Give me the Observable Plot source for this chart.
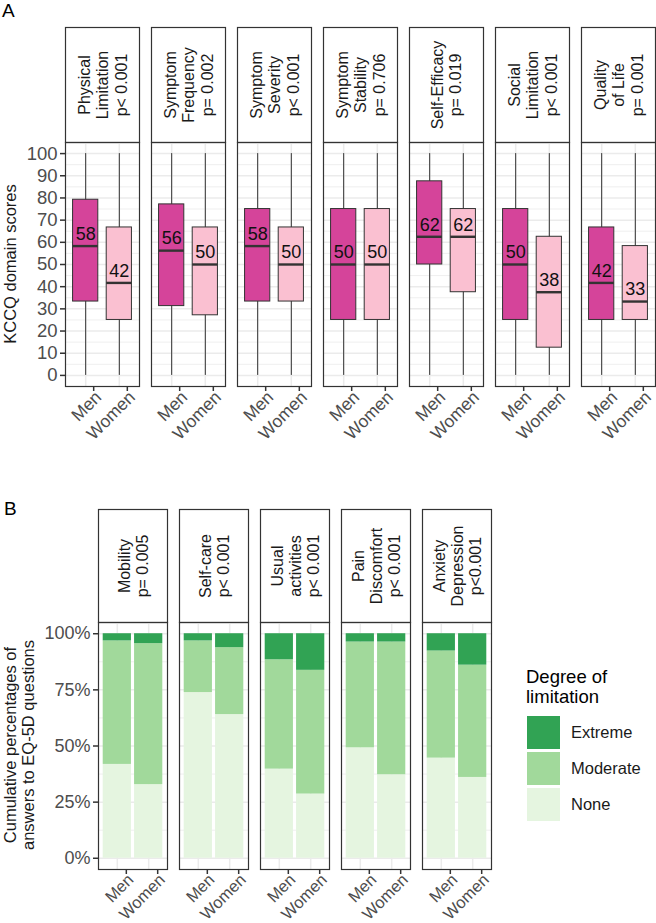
<!DOCTYPE html>
<html><head><meta charset="utf-8">
<script src="https://cdn.jsdelivr.net/npm/d3@7"></script>
<script src="https://cdn.jsdelivr.net/npm/@observablehq/plot@0.6"></script>
<style>
body{margin:0;background:#fff;font-family:"Liberation Sans",Arial,Helvetica,sans-serif;}
#root{position:relative;width:656px;height:923px;overflow:hidden;background:#fff;}
#root > svg, #root > div{position:absolute;}
.rot{transform:translate(-50%,-50%) rotate(-90deg);white-space:pre;text-align:center;color:#1A1A1A;font-size:16.5px;line-height:18px;}
</style></head><body><div id="root"></div>
<script>
// ---------- Panel A data (KCCQ) ----------
const kccqDomains = ["Physical Limitation","Symptom Frequency","Symptom Severity","Symptom Stability","Self-Efficacy","Social Limitation","Quality of Life"];
const kccqStripLabels = ["Physical\nLimitation\np< 0.001","Symptom\nFrequency\np= 0.002","Symptom\nSeverity\np< 0.001","Symptom\nStability\np= 0.706","Self-Efficacy\np= 0.019","Social\nLimitation\np< 0.001","Quality\nof Life\np= 0.001"];
const sexes = ["Men","Women"];
const boxColors = ["#D5449A","#FAC0D1"];
const menLow      = [0, 0, 0, 0, 0, 0, 0];
const menQ1       = [33.3, 31.25, 33.3, 25, 50, 25, 25];
const menMedian   = [58.3, 56.25, 58.3, 50, 62.5, 50, 41.7];
const menQ3       = [79.2, 77.1, 75, 75, 87.5, 75, 66.7];
const menHigh     = [100, 100, 100, 100, 100, 100, 100];
const menLabel    = ["58","56","58","50","62","50","42"];
const womenLow    = [0, 0, 0, 0, 0, 0, 0];
const womenQ1     = [25, 27.1, 33.3, 25, 37.5, 12.5, 25];
const womenMedian = [41.7, 50, 50, 50, 62.5, 37.5, 33.3];
const womenQ3     = [66.7, 66.7, 66.7, 75, 75, 62.5, 58.3];
const womenHigh   = [100, 100, 100, 100, 100, 100, 100];
const womenLabel  = ["42","50","50","50","62","38","33"];
const kccqTicks = [0,10,20,30,40,50,60,70,80,90,100];
const kccqMinor = [5,15,25,35,45,55,65,75,85,95];
const kccqTitle = "KCCQ domain scores";

// ---------- Panel B data (EQ-5D) ----------
const eqDomains = ["Mobility","Self-care","Usual activities","Pain Discomfort","Anxiety Depression"];
const eqStripLabels = ["Mobility\np= 0.005","Self-care\np< 0.001","Usual\nactivities\np< 0.001","Pain\nDiscomfort\np< 0.001","Anxiety\nDepression\np<0.001"];
const levels = ["Extreme","Moderate","None"];
const levelColors = ["#31A354","#A1D99B","#E5F5E0"];
const menNone       = [41.8, 73.8, 39.7, 49.2, 44.6];
const menModerate   = [55.0, 23.0, 48.7, 47.1, 47.7];
const menExtreme    = [3.2, 3.2, 11.6, 3.7, 7.7];
const womenNone     = [32.8, 64.0, 28.6, 37.2, 36.0];
const womenModerate = [62.8, 29.8, 55.1, 59.1, 50.0];
const womenExtreme  = [4.4, 6.2, 16.3, 3.7, 14.0];
const eqTicks = [0,25,50,75,100];
const eqMinor = [12.5,37.5,62.5,87.5];
const eqTitle = "Cumulative percentages of\nanswers to EQ-5D questions";
const legendTitle = "Degree of\nlimitation";

// ---------- build tables ----------
const boxRows = [];
kccqDomains.forEach((d,i)=>{
  boxRows.push({domain:d, sex:"Men", lo:menLow[i], q1:menQ1[i], med:menMedian[i], q3:menQ3[i], hi:menHigh[i], label:menLabel[i]});
  boxRows.push({domain:d, sex:"Women", lo:womenLow[i], q1:womenQ1[i], med:womenMedian[i], q3:womenQ3[i], hi:womenHigh[i], label:womenLabel[i]});
});
const stripRowsA = kccqDomains.map((d,i)=>({domain:d, label:kccqStripLabels[i]}));
const eqRows = [];
eqDomains.forEach((d,i)=>{
  eqRows.push({domain:d, sex:"Men", level:"None", value:menNone[i]});
  eqRows.push({domain:d, sex:"Men", level:"Moderate", value:menModerate[i]});
  eqRows.push({domain:d, sex:"Men", level:"Extreme", value:menExtreme[i]});
  eqRows.push({domain:d, sex:"Women", level:"None", value:womenNone[i]});
  eqRows.push({domain:d, sex:"Women", level:"Moderate", value:womenModerate[i]});
  eqRows.push({domain:d, sex:"Women", level:"Extreme", value:womenExtreme[i]});
});
const stripRowsB = eqDomains.map((d,i)=>({domain:d, label:eqStripLabels[i]}));

const FONT = '"Liberation Sans",Arial,Helvetica,sans-serif';
const root = document.getElementById("root");
function place(el, left, top){ el.style.left = left+"px"; el.style.top = top+"px"; root.appendChild(el); return el; }
function div(text, css){ const e = document.createElement("div"); e.textContent = text; Object.assign(e.style, css||{}); return e; }

const xAxisOpts = {tickSize: 5, tickPadding: -2, stroke: "#333333", strokeWidth: 1.5, tickRotate: -45, textAnchor: "end", lineAnchor: "top", dx: 8, fontSize: 17.5, label: null};
const xAxisOptsB = {...xAxisOpts, tickPadding: -2, dx: 9, fontSize: 16.5};

// ---------- Panel A ----------
const fxA = {domain: kccqDomains, paddingInner: 12/86, paddingOuter: 0, round: false, axis: null};
const stripA = Plot.plot({
  width: 656, height: 117, marginLeft: 65, marginRight: 1, marginTop: 1, marginBottom: 1,
  style: {fontFamily: FONT, background: "transparent", overflow: "visible"},
  fx: fxA,
  marks: [
    Plot.frame({fill: "white", stroke: "#333333", strokeWidth: 1.2}),
    Plot.text(stripRowsA, {fx: "domain", text: "label", frameAnchor: "middle", rotate: -90, fill: "#1A1A1A", fontSize: 16, lineHeight: 1.14})
  ]
});
place(stripA, 0, 26);

const bodyA = Plot.plot({
  width: 656, height: 300, marginLeft: 65, marginRight: 1, marginTop: 1, marginBottom: 55,
  style: {fontFamily: FONT, background: "transparent", color: "#4D4D4D", overflow: "visible"},
  fx: fxA,
  x: {domain: sexes, paddingInner: 0.25, paddingOuter: 0.225, round: false, axis: null},
  y: {domain: [-5, 105], axis: null},
  color: {domain: sexes, range: boxColors},
  marks: [
    Plot.ruleY(kccqMinor, {stroke: "#EBEBEB", strokeWidth: 0.8}),
    Plot.ruleY(kccqTicks, {stroke: "#EBEBEB", strokeWidth: 1.5}),
    Plot.ruleX(sexes, {x: d => d, stroke: "#EBEBEB", strokeWidth: 1.5}),
    Plot.ruleX(boxRows, {fx: "domain", x: "sex", y1: "lo", y2: "hi", stroke: "#333333", strokeWidth: 1}),
    Plot.barY(boxRows, {fx: "domain", x: "sex", y1: "q1", y2: "q3", fill: "sex", stroke: "#333333", strokeWidth: 1}),
    Plot.tickY(boxRows, {fx: "domain", x: "sex", y: "med", stroke: "#333333", strokeWidth: 2.4}),
    Plot.text(boxRows, {fx: "domain", x: "sex", y: "med", text: "label", dy: -12, fill: "#111111", fontSize: 18}),
    Plot.frame({stroke: "#333333", strokeWidth: 1.2}),
    Plot.axisY({ticks: kccqTicks, tickSize: 5, tickPadding: 3, stroke: "#333333", strokeWidth: 1.5, fontSize: 18.5, label: null}),
    Plot.axisX(xAxisOpts)
  ]
});
place(bodyA, 0, 141);

place(div("A", {fontSize: "19px", lineHeight: "19px", color: "#000"}), 2, 1);
const titleA = div(kccqTitle, {}); titleA.className = "rot"; place(titleA, 10, 264);

// ---------- Panel B ----------
const fxB = {domain: eqDomains, paddingInner: 12/81, paddingOuter: 0, round: false, axis: null};
const stripB = Plot.plot({
  width: 492, height: 115, marginLeft: 98, marginRight: 1, marginTop: 1, marginBottom: 1,
  style: {fontFamily: FONT, background: "transparent", overflow: "visible"},
  fx: fxB,
  marks: [
    Plot.frame({fill: "white", stroke: "#333333", strokeWidth: 1.2}),
    Plot.text(stripRowsB, {fx: "domain", text: "label", frameAnchor: "middle", rotate: -90, fill: "#1A1A1A", fontSize: 16, lineHeight: 1.14})
  ]
});
place(stripB, 0, 508);

const bodyB = Plot.plot({
  width: 492, height: 302, marginLeft: 98, marginRight: 1, marginTop: 1, marginBottom: 54,
  style: {fontFamily: FONT, background: "transparent", color: "#4D4D4D", overflow: "visible"},
  fx: fxB,
  x: {domain: sexes, paddingInner: 0.1, paddingOuter: 0.15, round: false, axis: null},
  y: {domain: [-5, 105], axis: null},
  color: {domain: levels, range: levelColors},
  marks: [
    Plot.ruleY(eqMinor, {stroke: "#EBEBEB", strokeWidth: 0.8}),
    Plot.ruleY(eqTicks, {stroke: "#EBEBEB", strokeWidth: 1.5}),
    Plot.ruleX(sexes, {x: d => d, stroke: "#EBEBEB", strokeWidth: 1.5}),
    Plot.barY(eqRows, Plot.stackY({fx: "domain", x: "sex", y: "value", fill: "level"})),
    Plot.frame({stroke: "#333333", strokeWidth: 1.2}),
    Plot.axisY({ticks: eqTicks, tickFormat: d => d + "%", tickSize: 5, tickPadding: 3, stroke: "#333333", strokeWidth: 1.5, fontSize: 18, label: null}),
    Plot.axisX(xAxisOptsB)
  ]
});
place(bodyB, 0, 621);

place(div("B", {fontSize: "19px", lineHeight: "19px", color: "#000"}), 4, 499);
const titleB = div(eqTitle, {}); titleB.className = "rot"; place(titleB, 19, 745);

// ---------- Legend ----------
place(div(legendTitle, {fontSize: "18.5px", lineHeight: "20px", color: "#000", whiteSpace: "pre"}), 526, 667);
levels.forEach((lv, i) => {
  place(div("", {width: "33px", height: "33px", background: levelColors[i]}), 527, 716 + i*36);
  place(div(lv, {fontSize: "16.5px", lineHeight: "33px", color: "#1A1A1A"}), 571, 716 + i*36);
});
</script></body></html>
